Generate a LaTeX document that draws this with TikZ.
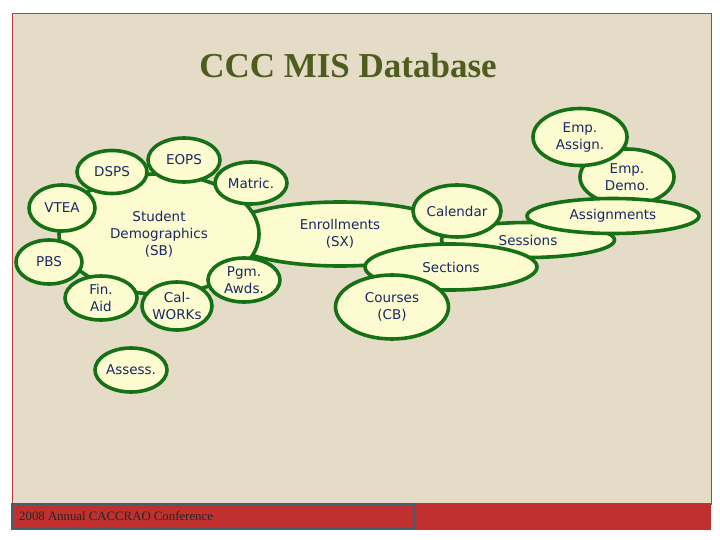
\documentclass[tikz,border=0pt]{standalone}
\usepackage{fontspec}
\setmainfont{DejaVu Sans}
\newfontfamily\titlefont{Liberation Serif}
\usetikzlibrary{shapes.geometric}
\definecolor{bgbeige}{RGB}{229,220,200}
\definecolor{frame}{RGB}{190,60,60}
\definecolor{footred}{RGB}{192,48,46}
\definecolor{slate}{RGB}{64,96,112}
\definecolor{blobgreen}{RGB}{22,112,22}
\definecolor{blobfill}{RGB}{252,252,208}
\definecolor{navy}{RGB}{25,40,100}
\definecolor{olive}{RGB}{78,92,30}
\tikzset{
  blob/.style={ellipse, draw=blobgreen, fill=blobfill, line width=3.6pt,
    inner sep=0pt, align=center, text=navy,
    font=\fontsize{13.5}{17}\selectfont},
}
\begin{document}
\begin{tikzpicture}[x=1pt,y=-1pt]
\useasboundingbox (0,0) rectangle (720,540);
\fill[white] (0,0) rectangle (720,540);
\draw[frame, fill=bgbeige, line width=0.8pt] (12,13) rectangle (711,504);
\fill[footred] (11,503) rectangle (711,530);
\draw[slate, fill=footred, line width=2pt] (12,504) rectangle (414,528);
\node[anchor=west, inner sep=0pt, font=\titlefont\fontsize{12.8}{15}\selectfont, text=black!85] (foot) at (19,516) {2008 Annual CACCRAO Conference};
\node[anchor=base, inner sep=0pt, font=\titlefont\bfseries\fontsize{35}{40}\selectfont, text=olive] (title) at (348,78) {CCC MIS Database};
% Enrollments behind student demographics
\node[blob, minimum width=236pt, minimum height=64pt, text width=150pt] (sx) at (340,234) {Enrollments\\(SX)};
\node[blob, minimum width=200pt, minimum height=120pt] (sb) at (159,234) {Student\\Demographics\\(SB)};
% satellites
\node[blob, minimum width=70pt, minimum height=43pt] (dsps) at (112,172) {DSPS};
\node[blob, minimum width=72pt, minimum height=44pt] (eops) at (184,160) {EOPS};
\node[blob, minimum width=72pt, minimum height=42pt] (matric) at (251,183) {Matric.};
\node[blob, minimum width=66pt, minimum height=46pt] (vtea) at (62,208) {VTEA};
\node[blob, minimum width=66pt, minimum height=44pt] (pbs) at (49,262) {PBS};
\node[blob, minimum width=72pt, minimum height=44pt] (fin) at (101,298) {Fin.\\Aid};
\node[blob, minimum width=70pt, minimum height=48pt] (cal) at (177,306) {Cal-\\WORKs};
\node[blob, minimum width=72pt, minimum height=44pt] (pgm) at (244,280) {Pgm.\\Awds.};
\node[blob, minimum width=72pt, minimum height=44pt] (assess) at (131,370) {Assess.};
% right cluster
\node[blob, minimum width=94pt, minimum height=56pt] (empdemo) at (627,177) {Emp.\\Demo.};
\node[blob, minimum width=94pt, minimum height=57pt] (empassign) at (580,137) {Emp.\\Assign.};
\node[blob, minimum width=173pt, minimum height=35pt] (sessions) at (528,240) {Sessions};
\node[blob, minimum width=172pt, minimum height=35pt] (assign) at (613,216) {Assignments};
\node[blob, minimum width=88pt, minimum height=52pt] (calendar) at (457,211) {Calendar};
\node[blob, minimum width=172pt, minimum height=46pt] (sections) at (451,267) {Sections};
\node[blob, minimum width=113pt, minimum height=64pt] (courses) at (392,307) {Courses\\(CB)};
\end{tikzpicture}
\end{document}
